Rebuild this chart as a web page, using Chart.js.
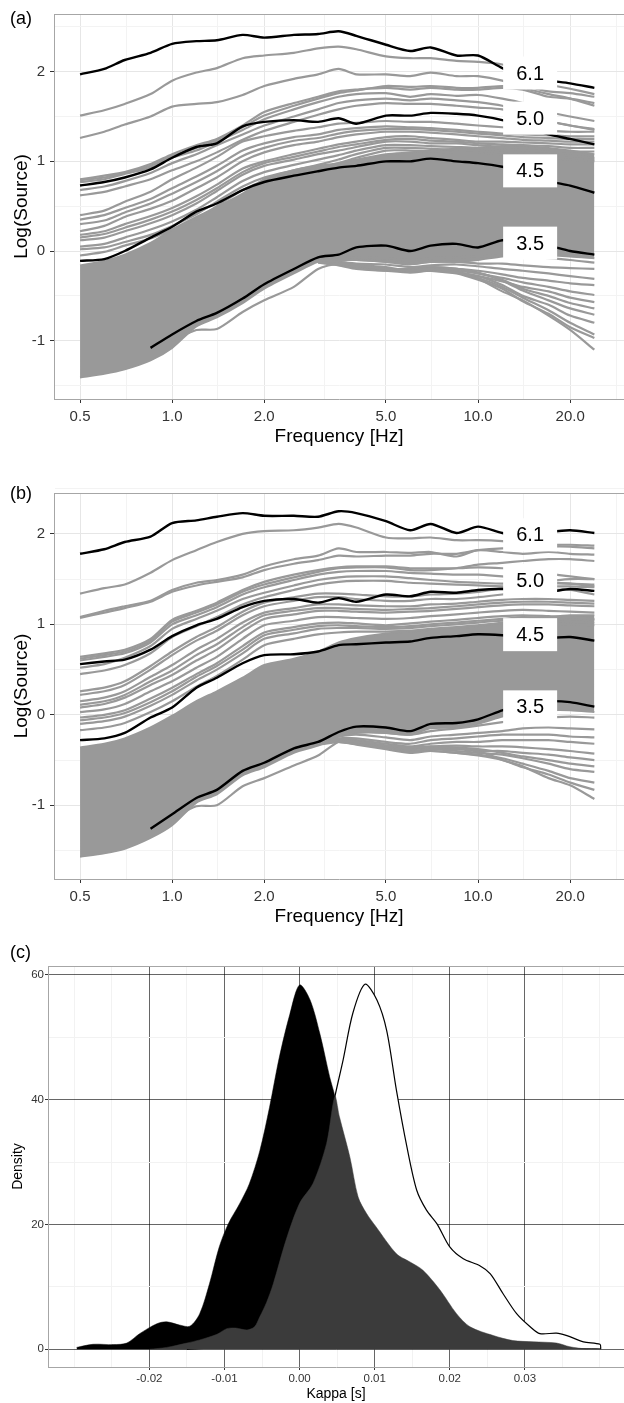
<!DOCTYPE html>
<html>
<head>
<meta charset="utf-8">
<script src="https://cdn.jsdelivr.net/npm/chart.js@4.4.1/dist/chart.umd.min.js"></script>
<style>
  body { margin: 0; background: #fff; width: 624px; height: 1403px; position: relative; overflow: hidden; }
  canvas { position: absolute; left: 0; }
</style>
</head>
<body>
<canvas id="chartA" width="624" height="460" style="top:0px"></canvas>
<canvas id="chartB" width="624" height="461" style="top:479px"></canvas>
<canvas id="chartC" width="624" height="463" style="top:940px"></canvas>
<script>
// ---------- shared axis data (panels a, b) ----------
const freqs = [0.5, 0.6, 0.7, 0.85, 1.0, 1.2, 1.4, 1.7, 2.0, 2.5, 3.0, 3.5, 4.0, 5.0, 6.0, 7.0, 8.5, 10, 12, 14, 17, 20, 24];
const freqMajor = [0.5, 1, 2, 5, 10, 20];
const freqTickLabels = ['0.5', '1.0', '2.0', '5.0', '10.0', '20.0'];
const freqMinor = [0.71, 1.41, 3.16, 7.07, 14.1, 28.3];
const sourceMajor = [-1, 0, 1, 2];
const sourceMinor = [-1.5, -0.5, 0.5, 1.5, 2.5];
const magLabels = ['6.1', '5.0', '4.5', '3.5'];
const magLabelFreq = 14.8;

// ---------- panel (a) ----------
const aMagLabelValues = [1.985, 1.482, 0.894, 0.088];
const aBlack61 = [1.97, 2.03, 2.13, 2.21, 2.31, 2.34, 2.35, 2.41, 2.38, 2.41, 2.42, 2.45, 2.40, 2.30, 2.23, 2.27, 2.18, 2.18, 2.04, 1.95, 1.90, 1.87, 1.82];
const aBlack50 = [0.73, 0.77, 0.82, 0.91, 1.04, 1.16, 1.20, 1.39, 1.44, 1.46, 1.44, 1.48, 1.42, 1.51, 1.51, 1.54, 1.53, 1.51, 1.46, 1.39, 1.30, 1.25, 1.19];
const aBlack45 = [-0.11, -0.09, 0.0, 0.15, 0.27, 0.44, 0.53, 0.68, 0.77, 0.84, 0.89, 0.93, 0.95, 1.00, 1.00, 1.03, 1.00, 0.98, 0.94, 0.88, 0.78, 0.73, 0.65];
const aBlack35 = [null, null, null, -1.08, -0.93, -0.78, -0.69, -0.53, -0.37, -0.20, -0.07, -0.04, 0.04, 0.06, 0.0, 0.06, 0.08, 0.04, 0.12, 0.11, 0.06, 0.0, -0.04];
// envelope of the dense grey mass
const aBandUpper = [-0.16, -0.11, -0.04, 0.09, 0.24, 0.38, 0.49, 0.64, 0.80, 0.90, 0.95, 0.98, 1.02, 1.08, 1.10, 1.12, 1.14, 1.15, 1.17, 1.17, 1.15, 1.12, 1.08];
const aBandLower = [-1.41, -1.37, -1.32, -1.22, -1.08, -0.84, -0.74, -0.58, -0.42, -0.25, -0.12, -0.10, -0.10, -0.12, -0.15, -0.12, -0.12, -0.10, -0.06, -0.05, -0.05, -0.06, -0.08];
// separate grey curves
const aGrey = [
  [1.51, 1.57, 1.64, 1.75, 1.90, 1.99, 2.04, 2.15, 2.18, 2.21, 2.26, 2.28, 2.25, 2.17, 2.15, 2.15, 2.12, 2.11, 2.08, 2.00, 1.86, 1.81, 1.75],
  [1.26, 1.33, 1.41, 1.50, 1.61, 1.64, 1.66, 1.74, 1.84, 1.92, 1.97, 2.03, 1.97, 1.97, 1.95, 1.99, 1.95, 1.95, 1.90, 1.82, 1.75, 1.70, 1.62],
  [0.80, 0.84, 0.88, 0.97, 1.08, 1.18, 1.25, 1.40, 1.55, 1.65, 1.72, 1.78, 1.80, 1.82, 1.80, 1.82, 1.80, 1.80, 1.82, 1.80, 1.72, 1.70, 1.65],
  [0.79, 0.82, 0.87, 0.95, 1.06, 1.15, 1.24, 1.38, 1.51, 1.62, 1.70, 1.76, 1.79, 1.84, 1.83, 1.84, 1.82, 1.82, 1.84, 1.84, 1.78, 1.76, 1.72],
  [0.77, 0.80, 0.86, 0.93, 1.04, 1.12, 1.22, 1.35, 1.47, 1.58, 1.66, 1.72, 1.75, 1.76, 1.72, 1.75, 1.73, 1.74, 1.70, 1.65, 1.55, 1.50, 1.45],
  [0.68, 0.72, 0.78, 0.87, 0.98, 1.08, 1.18, 1.30, 1.40, 1.50, 1.58, 1.65, 1.68, 1.70, 1.68, 1.70, 1.68, 1.66, 1.62, 1.55, 1.45, 1.40, 1.35],
  [0.62, 0.66, 0.72, 0.80, 0.90, 1.00, 1.10, 1.24, 1.34, 1.44, 1.52, 1.58, 1.62, 1.65, 1.64, 1.64, 1.62, 1.60, 1.58, 1.52, 1.45, 1.40, 1.36],
  [0.40, 0.45, 0.55, 0.66, 0.80, 0.93, 1.05, 1.22, 1.28, 1.34, 1.38, 1.42, 1.43, 1.45, 1.44, 1.44, 1.42, 1.40, 1.38, 1.36, 1.34, 1.33, 1.33],
  [0.35, 0.40, 0.48, 0.58, 0.70, 0.83, 0.95, 1.12, 1.20, 1.27, 1.30, 1.35, 1.37, 1.39, 1.38, 1.37, 1.35, 1.33, 1.31, 1.30, 1.29, 1.28, 1.28],
  [0.30, 0.34, 0.43, 0.53, 0.64, 0.77, 0.89, 1.06, 1.15, 1.23, 1.26, 1.31, 1.34, 1.36, 1.36, 1.35, 1.33, 1.31, 1.29, 1.27, 1.26, 1.25, 1.25],
  [0.22, 0.28, 0.38, 0.47, 0.56, 0.70, 0.82, 1.00, 1.10, 1.18, 1.22, 1.27, 1.30, 1.33, 1.33, 1.32, 1.30, 1.28, 1.26, 1.24, 1.23, 1.22, 1.22],
  [0.18, 0.22, 0.30, 0.39, 0.48, 0.61, 0.74, 0.92, 1.00, 1.08, 1.14, 1.19, 1.22, 1.27, 1.28, 1.26, 1.24, 1.22, 1.22, 1.21, 1.20, 1.19, 1.19],
  [0.15, 0.19, 0.26, 0.35, 0.44, 0.57, 0.70, 0.88, 0.98, 1.05, 1.11, 1.16, 1.19, 1.24, 1.25, 1.23, 1.22, 1.20, 1.19, 1.18, 1.17, 1.15, 1.15],
  [0.12, 0.15, 0.22, 0.31, 0.40, 0.53, 0.67, 0.85, 0.95, 1.02, 1.08, 1.12, 1.16, 1.22, 1.22, 1.20, 1.20, 1.18, 1.16, 1.15, 1.13, 1.11, 1.11],
  [0.05, 0.08, 0.15, 0.24, 0.33, 0.46, 0.60, 0.78, 0.88, 0.96, 1.02, 1.07, 1.12, 1.18, 1.18, 1.17, 1.16, 1.15, 1.12, 1.10, 1.08, 1.06, 1.04],
  [0.02, 0.04, 0.10, 0.18, 0.28, 0.41, 0.55, 0.72, 0.82, 0.90, 0.96, 1.02, 1.08, 1.15, 1.15, 1.14, 1.13, 1.12, 1.10, 1.08, 1.06, 1.04, 1.02],
  [-0.05, -0.01, 0.06, 0.14, 0.24, 0.36, 0.50, 0.68, 0.78, 0.86, 0.92, 0.98, 1.04, 1.12, 1.12, 1.11, 1.10, 1.10, 1.08, 1.06, 1.04, 1.02, 1.00],
  [null, null, null, null, -1.0, -0.88, -0.87, -0.68, -0.55, -0.40, -0.20, -0.14, -0.16, -0.2, -0.22, -0.2, -0.24, -0.31, -0.45, -0.55, -0.72, -0.88, -1.1]
];
// lower fan of curves, from 3 Hz on
const aFan = [
  [-0.05, -0.06, -0.07, -0.08, -0.10, -0.08, -0.07, -0.06, -0.05, -0.06, -0.08, -0.10, -0.13],
  [-0.08, -0.10, -0.10, -0.12, -0.14, -0.12, -0.12, -0.14, -0.14, -0.16, -0.18, -0.19, -0.20],
  [-0.10, -0.12, -0.14, -0.15, -0.18, -0.16, -0.15, -0.17, -0.20, -0.22, -0.25, -0.28, -0.31],
  [-0.12, -0.14, -0.17, -0.20, -0.20, -0.20, -0.20, -0.22, -0.26, -0.30, -0.33, -0.36, -0.38],
  [-0.10, -0.12, -0.15, -0.18, -0.22, -0.18, -0.20, -0.25, -0.30, -0.35, -0.40, -0.45, -0.49],
  [-0.12, -0.15, -0.18, -0.20, -0.23, -0.22, -0.24, -0.28, -0.34, -0.40, -0.45, -0.52, -0.57],
  [-0.13, -0.16, -0.20, -0.22, -0.22, -0.20, -0.22, -0.25, -0.32, -0.42, -0.50, -0.58, -0.64],
  [-0.10, -0.13, -0.16, -0.20, -0.20, -0.18, -0.20, -0.24, -0.33, -0.44, -0.55, -0.64, -0.71],
  [-0.12, -0.15, -0.19, -0.22, -0.24, -0.22, -0.24, -0.28, -0.38, -0.50, -0.60, -0.72, -0.80],
  [-0.11, -0.14, -0.18, -0.21, -0.22, -0.20, -0.23, -0.30, -0.40, -0.52, -0.66, -0.80, -0.93],
  [-0.10, -0.13, -0.17, -0.20, -0.21, -0.22, -0.25, -0.32, -0.42, -0.56, -0.70, -0.85, -0.97]
];

// ---------- panel (b) ----------
const bMagLabelValues = [1.99, 1.484, 0.886, 0.088];
const bBlack61 = [1.78, 1.83, 1.91, 1.97, 2.12, 2.15, 2.19, 2.23, 2.20, 2.20, 2.19, 2.25, 2.23, 2.14, 2.04, 2.11, 2.01, 2.08, 2.01, 1.98, 2.02, 2.04, 2.01];
const bBlack50 = [0.56, 0.59, 0.61, 0.72, 0.87, 0.99, 1.06, 1.19, 1.26, 1.28, 1.24, 1.29, 1.25, 1.33, 1.31, 1.36, 1.35, 1.38, 1.39, 1.37, 1.36, 1.39, 1.37];
const bBlack45 = [-0.28, -0.26, -0.20, -0.03, 0.08, 0.30, 0.41, 0.57, 0.66, 0.67, 0.70, 0.77, 0.78, 0.80, 0.81, 0.85, 0.87, 0.89, 0.88, 0.86, 0.85, 0.86, 0.82];
const bBlack35 = [null, null, null, -1.26, -1.10, -0.92, -0.83, -0.62, -0.53, -0.37, -0.30, -0.19, -0.13, -0.14, -0.18, -0.10, -0.09, -0.05, 0.05, 0.11, 0.15, 0.14, 0.09];
const bBandUpper = [-0.36, -0.32, -0.26, -0.14, -0.01, 0.15, 0.26, 0.41, 0.55, 0.62, 0.70, 0.80, 0.85, 0.90, 0.92, 0.94, 0.96, 0.98, 1.02, 1.05, 1.08, 1.10, 1.10];
const bBandLower = [-1.57, -1.53, -1.48, -1.36, -1.22, -0.97, -0.88, -0.67, -0.58, -0.42, -0.34, -0.24, -0.20, -0.20, -0.22, -0.15, -0.14, -0.10, -0.02, 0.03, 0.05, 0.05, 0.03];
const bGrey = [
  [1.34, 1.40, 1.44, 1.57, 1.71, 1.82, 1.91, 2.00, 2.03, 2.04, 2.07, 2.11, 2.07, 1.96, 1.95, 1.96, 1.93, 1.93, 1.92, 1.90, 1.88, 1.88, 1.87],
  [1.08, 1.15, 1.20, 1.26, 1.38, 1.46, 1.49, 1.55, 1.64, 1.72, 1.76, 1.84, 1.80, 1.80, 1.79, 1.80, 1.75, 1.82, 1.80, 1.78, 1.80, 1.78, 1.77],
  [1.07, 1.13, 1.18, 1.25, 1.36, 1.43, 1.47, 1.52, 1.60, 1.67, 1.71, 1.76, 1.75, 1.76, 1.76, 1.78, 1.78, 1.82, 1.84, 1.84, 1.86, 1.86, 1.84],
  [0.64, 0.68, 0.72, 0.84, 1.05, 1.15, 1.24, 1.38, 1.47, 1.55, 1.60, 1.63, 1.64, 1.64, 1.62, 1.62, 1.62, 1.63, 1.62, 1.60, 1.56, 1.53, 1.50],
  [0.62, 0.66, 0.70, 0.82, 1.03, 1.13, 1.22, 1.36, 1.44, 1.52, 1.58, 1.62, 1.63, 1.63, 1.60, 1.60, 1.62, 1.66, 1.68, 1.70, 1.72, 1.72, 1.70],
  [0.60, 0.64, 0.68, 0.80, 1.00, 1.10, 1.19, 1.33, 1.41, 1.49, 1.55, 1.58, 1.59, 1.59, 1.57, 1.56, 1.55, 1.55, 1.53, 1.50, 1.47, 1.45, 1.44],
  [0.52, 0.56, 0.63, 0.76, 0.95, 1.06, 1.15, 1.28, 1.35, 1.43, 1.49, 1.52, 1.53, 1.53, 1.51, 1.49, 1.47, 1.46, 1.45, 1.46, 1.48, 1.50, 1.50],
  [0.45, 0.49, 0.55, 0.68, 0.86, 0.98, 1.08, 1.22, 1.30, 1.38, 1.44, 1.47, 1.48, 1.48, 1.46, 1.45, 1.44, 1.43, 1.42, 1.42, 1.42, 1.42, 1.41],
  [0.26, 0.30, 0.37, 0.54, 0.70, 0.86, 0.97, 1.14, 1.24, 1.30, 1.34, 1.34, 1.33, 1.31, 1.31, 1.33, 1.34, 1.36, 1.40, 1.43, 1.45, 1.45, 1.42],
  [0.22, 0.26, 0.33, 0.50, 0.66, 0.82, 0.93, 1.10, 1.20, 1.26, 1.30, 1.30, 1.28, 1.26, 1.26, 1.28, 1.28, 1.30, 1.33, 1.36, 1.38, 1.38, 1.33],
  [0.15, 0.19, 0.26, 0.42, 0.55, 0.72, 0.84, 1.02, 1.13, 1.18, 1.22, 1.22, 1.21, 1.20, 1.20, 1.22, 1.23, 1.25, 1.27, 1.28, 1.28, 1.27, 1.26],
  [0.11, 0.15, 0.22, 0.37, 0.49, 0.66, 0.78, 0.97, 1.10, 1.15, 1.18, 1.18, 1.17, 1.16, 1.17, 1.18, 1.20, 1.22, 1.24, 1.25, 1.25, 1.24, 1.23],
  [0.08, 0.12, 0.19, 0.33, 0.44, 0.60, 0.72, 0.92, 1.06, 1.11, 1.15, 1.15, 1.14, 1.13, 1.14, 1.15, 1.17, 1.19, 1.21, 1.22, 1.22, 1.21, 1.20],
  [0.03, 0.06, 0.12, 0.26, 0.37, 0.52, 0.64, 0.84, 0.99, 1.04, 1.08, 1.08, 1.07, 1.06, 1.07, 1.09, 1.11, 1.13, 1.15, 1.16, 1.15, 1.14, 1.13],
  [-0.03, 0.0, 0.05, 0.18, 0.30, 0.45, 0.57, 0.76, 0.91, 0.97, 1.01, 1.02, 1.01, 0.99, 1.01, 1.03, 1.05, 1.07, 1.09, 1.10, 1.09, 1.08, 1.06],
  [-0.06, -0.03, 0.02, 0.14, 0.26, 0.42, 0.54, 0.72, 0.88, 0.94, 0.98, 0.99, 0.98, 0.97, 0.98, 1.00, 1.02, 1.04, 1.06, 1.08, 1.07, 1.06, 1.05],
  [-0.10, -0.07, -0.02, 0.10, 0.22, 0.38, 0.50, 0.68, 0.84, 0.90, 0.95, 0.96, 0.96, 0.95, 0.96, 0.98, 1.00, 1.02, 1.04, 1.05, 1.04, 1.03, 1.02],
  [-0.17, -0.14, -0.09, 0.03, 0.15, 0.31, 0.43, 0.61, 0.77, 0.84, 0.89, 0.91, 0.92, 0.92, 0.93, 0.95, 0.97, 0.99, 1.01, 1.02, 1.01, 1.00, 0.99],
  [null, null, null, null, -1.15, -1.01, -1.0, -0.79, -0.70, -0.56, -0.45, -0.30, -0.30, -0.34, -0.36, -0.35, -0.37, -0.40, -0.50, -0.57, -0.70, -0.78, -0.93]
];
const bFan = [
  [-0.28, -0.20, -0.18, -0.20, -0.22, -0.18, -0.15, -0.12, -0.08, -0.05, -0.03, -0.02, -0.03],
  [-0.30, -0.24, -0.22, -0.25, -0.28, -0.24, -0.22, -0.20, -0.18, -0.15, -0.14, -0.15, -0.16],
  [-0.30, -0.26, -0.26, -0.30, -0.32, -0.28, -0.26, -0.24, -0.22, -0.22, -0.22, -0.24, -0.25],
  [-0.32, -0.28, -0.28, -0.32, -0.35, -0.32, -0.30, -0.30, -0.28, -0.28, -0.28, -0.30, -0.32],
  [-0.33, -0.30, -0.30, -0.34, -0.38, -0.35, -0.34, -0.35, -0.35, -0.36, -0.38, -0.40, -0.43],
  [-0.32, -0.30, -0.32, -0.36, -0.40, -0.38, -0.38, -0.40, -0.40, -0.42, -0.44, -0.47, -0.50],
  [-0.30, -0.28, -0.30, -0.35, -0.38, -0.36, -0.36, -0.38, -0.42, -0.46, -0.50, -0.54, -0.57],
  [-0.30, -0.30, -0.32, -0.36, -0.40, -0.38, -0.40, -0.42, -0.44, -0.48, -0.54, -0.60, -0.63],
  [-0.32, -0.30, -0.33, -0.38, -0.42, -0.40, -0.42, -0.44, -0.48, -0.54, -0.62, -0.70, -0.75],
  [-0.30, -0.28, -0.30, -0.36, -0.40, -0.40, -0.42, -0.45, -0.50, -0.58, -0.66, -0.75, -0.83]
];
const fanStartIndex = 10; // fan curves begin at 3 Hz

// ---------- panel (c) ----------
const kappaBlack = [-0.0297, -0.0275, -0.0248, -0.0230, -0.0213, -0.0190, -0.0177, -0.0160, -0.0146, -0.0133, -0.0120, -0.0107, -0.0095, -0.0080, -0.0067, -0.0053, -0.0040, -0.0027, -0.0013, 0, 0.0014, 0.0027, 0.0040, 0.0047, 0.0060, 0.0080, 0.0100, 0.0130, 0.0160, 0.0200, 0.0250, 0.0300, 0.0350, 0.0401];
const densBlack = [0.3, 0.8, 0.75, 1.0, 2.5, 4.1, 4.4, 3.9, 3.7, 5.7, 10.5, 16.4, 20.1, 23.3, 26.5, 31.8, 38.8, 46.8, 53.7, 58.4, 56.0, 50.6, 43.7, 40.5, 31.0, 19.0, 11.0, 5.0, 2.5, 1.2, 0.6, 0.3, 0.15, 0.1];
const kappaDark = [-0.0200, -0.0177, -0.0150, -0.0133, -0.0110, -0.0097, -0.0085, -0.0070, -0.0060, -0.0053, -0.0044, -0.0035, -0.0018, 0, 0.0018, 0.0036, 0.0047, 0.0053, 0.0067, 0.0078, 0.0089, 0.0102, 0.0129, 0.0147, 0.0164, 0.0187, 0.0209, 0.0227, 0.0258, 0.0284, 0.0311, 0.0342, 0.0360, 0.0382, 0.0401];
const densDark = [0, 0.3, 1.0, 1.5, 2.4, 3.3, 3.4, 3.1, 3.6, 5.2, 7.5, 10.5, 17.5, 23.4, 26.6, 33.0, 40.5, 37.3, 30.8, 24.4, 21.8, 19.6, 15.3, 14.0, 12.7, 9.5, 5.7, 3.6, 2.2, 1.4, 1.2, 1.0, 0.4, 0.05, 0];
const kappaWhite = [-0.0150, -0.0100, -0.0050, 0, 0.0020, 0.0040, 0.0047, 0.0058, 0.0071, 0.0087, 0.0103, 0.0116, 0.0129, 0.0143, 0.0156, 0.0169, 0.0183, 0.0200, 0.0218, 0.0240, 0.0254, 0.0271, 0.0289, 0.0307, 0.0320, 0.0342, 0.0356, 0.0378, 0.0400, 0.0401];
const densWhite = [0, 0.5, 2.5, 10, 22, 36, 40.5, 46.4, 53.9, 58.5, 56.0, 51.1, 41.5, 32.4, 25.5, 22.3, 20.1, 16.4, 14.5, 13.4, 12.1, 8.9, 5.7, 3.6, 2.5, 2.6, 2.2, 1.2, 0.8, 0];
const kappaMajor = [-0.02, -0.01, 0, 0.01, 0.02, 0.03];
const kappaTickLabels = ['-0.02', '-0.01', '0.00', '0.01', '0.02', '0.03'];
const kappaMinor = [-0.03, -0.025, -0.015, -0.005, 0.005, 0.015, 0.025, 0.035, 0.04];
const densMajor = [0, 20, 40, 60];
const densMinor = [10, 30, 50];

// ---------- helpers ----------
Chart.defaults.font.family = '"Liberation Sans", Arial, Helvetica, sans-serif';
Chart.defaults.animation = false;
const GREY = '#999999';
const FRAME = '#a6a6a6';

function curve(values, color, width, order) {
  return {
    data: values, borderColor: color, borderWidth: width, pointRadius: 0,
    fill: false, tension: 0.25, order: order, borderJoinStyle: 'round'
  };
}

function padFan(vals) {
  return new Array(fanStartIndex).fill(null).concat(vals);
}

function sourceDatasets(bandUpper, bandLower, grey, fan, blacks) {
  const ds = [];
  ds.push(Object.assign(curve(bandUpper, GREY, 2, 10), { fill: '+1', backgroundColor: GREY }));
  ds.push(curve(bandLower, GREY, 2, 10));
  grey.forEach(g => ds.push(curve(g, GREY, 2.2, 5)));
  fan.forEach(f => ds.push(curve(padFan(f), GREY, 2.2, 5)));
  blacks.forEach(b => ds.push(curve(b, '#000', 2.4, 1)));
  return ds;
}

function isIn(list, v) {
  return list.some(m => Math.abs(m - v) < 1e-9);
}

function sourceDecor(tag, tagY, labelValues) {
  return {
    id: 'sourceDecor' + tag,
    afterDatasetsDraw(chart) {
      const { ctx, chartArea, scales: { x, y } } = chart;
      ctx.save();
      ctx.font = '20px "Liberation Sans", Arial, sans-serif';
      ctx.textAlign = 'center';
      ctx.textBaseline = 'middle';
      labelValues.forEach((v, i) => {
        const px = x.getPixelForValue(magLabelFreq);
        const py = y.getPixelForValue(v);
        ctx.fillStyle = '#fff';
        ctx.fillRect(px - 27, py - 16.5, 54, 33);
        ctx.fillStyle = '#000';
        ctx.fillText(magLabels[i], px, py + 1);
      });
      ctx.strokeStyle = FRAME;
      ctx.lineWidth = 1;
      ctx.beginPath();
      ctx.moveTo(chartArea.left, chartArea.top + 0.5);
      ctx.lineTo(chartArea.right, chartArea.top + 0.5);
      ctx.stroke();
      ctx.font = '18px "Liberation Sans", Arial, sans-serif';
      ctx.textAlign = 'left';
      ctx.fillStyle = '#000';
      ctx.fillText(tag, 10, tagY);
      ctx.restore();
    }
  };
}

function sourceChart(id, topPad, yMin, yMax, datasets, plugin) {
  return new Chart(document.getElementById(id), {
    type: 'line',
    data: { labels: freqs, datasets: datasets },
    options: {
      responsive: false,
      devicePixelRatio: 1,
      layout: { padding: { top: topPad, left: 0, right: 0, bottom: 0 } },
      plugins: { legend: { display: false }, tooltip: { enabled: false } },
      scales: {
        x: {
          type: 'logarithmic', min: 0.411, max: 30,
          afterBuildTicks: s => { s.ticks = freqMajor.concat(freqMinor).sort((p, q) => p - q).map(v => ({ value: v })); },
          afterFit: s => { s.height = 61; },
          ticks: {
            autoSkip: false, maxRotation: 0, padding: 5, color: '#333', font: { size: 15 },
            callback: v => { const i = freqMajor.indexOf(v); return i >= 0 ? freqTickLabels[i] : ''; }
          },
          grid: {
            color: c => (c.tick && isIn(freqMajor, c.tick.value)) ? '#e6e6e6' : '#f3f3f3',
            tickColor: c => (c.tick && isIn(freqMajor, c.tick.value)) ? '#333' : 'rgba(0,0,0,0)',
            tickLength: 4
          },
          border: { color: FRAME, width: 1 },
          title: { display: true, text: 'Frequency [Hz]', color: '#000', font: { size: 19 }, padding: { top: 0, bottom: 12 } }
        },
        y: {
          min: yMin, max: yMax,
          afterBuildTicks: s => { s.ticks = sourceMajor.concat(sourceMinor).sort((p, q) => p - q).map(v => ({ value: v })); },
          afterFit: s => { s.width = 54; },
          ticks: {
            padding: 5, color: '#333', font: { size: 15 },
            callback: v => isIn(sourceMajor, v) ? String(Math.round(v)) : ''
          },
          grid: {
            color: c => (c.tick && isIn(sourceMajor, c.tick.value)) ? '#e6e6e6' : '#f3f3f3',
            tickColor: c => (c.tick && isIn(sourceMajor, c.tick.value)) ? '#333' : 'rgba(0,0,0,0)',
            tickLength: 4
          },
          border: { color: FRAME, width: 1 },
          title: { display: true, text: 'Log(Source)', color: '#000', font: { size: 19 }, padding: { top: 10, bottom: 0 } }
        }
      }
    },
    plugins: [plugin]
  });
}

// ---------- panel (a) ----------
sourceChart('chartA', 7.3, -1.65, 2.643,
  sourceDatasets(aBandUpper, aBandLower, aGrey, aFan, [aBlack61, aBlack50, aBlack45, aBlack35]),
  sourceDecor('(a)', 19, aMagLabelValues));

// ---------- panel (b) ----------
sourceChart('chartB', 7.7, -1.815, 2.452,
  sourceDatasets(bBandUpper, bBandLower, bGrey, bFan, [bBlack61, bBlack50, bBlack45, bBlack35]),
  sourceDecor('(b)', 15, bMagLabelValues));

// ---------- panel (c) ----------
function toPoints(ks, ds) {
  return ks.map((k, i) => ({ x: k, y: ds[i] }));
}

const kappaDecor = {
  id: 'kappaDecor',
  afterDatasetsDraw(chart) {
    const { ctx, chartArea } = chart;
    ctx.save();
    ctx.strokeStyle = FRAME;
    ctx.lineWidth = 1;
    ctx.beginPath();
    ctx.moveTo(chartArea.left, chartArea.top + 0.5);
    ctx.lineTo(chartArea.right, chartArea.top + 0.5);
    ctx.stroke();
    ctx.font = '18px "Liberation Sans", Arial, sans-serif';
    ctx.textAlign = 'left';
    ctx.textBaseline = 'middle';
    ctx.fillStyle = '#000';
    ctx.fillText('(c)', 10, 13);
    ctx.restore();
  }
};

new Chart(document.getElementById('chartC'), {
  type: 'line',
  data: {
    datasets: [
      { data: toPoints(kappaDark, densDark), backgroundColor: '#3b3b3b', borderColor: '#3b3b3b', borderWidth: 0.5,
        fill: 'origin', pointRadius: 0, tension: 0.3, order: 1 },
      { data: toPoints(kappaBlack, densBlack), backgroundColor: '#000', borderColor: '#000', borderWidth: 0.5,
        fill: 'origin', pointRadius: 0, tension: 0.3, order: 2 },
      { data: toPoints(kappaWhite, densWhite), backgroundColor: '#fff', borderColor: '#000', borderWidth: 1.2,
        fill: 'origin', pointRadius: 0, tension: 0.3, order: 3 }
    ]
  },
  options: {
    responsive: false,
    devicePixelRatio: 1,
    layout: { padding: { top: 26, left: 0, right: 0, bottom: 0 } },
    plugins: { legend: { display: false }, tooltip: { enabled: false } },
    scales: {
      x: {
        type: 'linear', min: -0.0335, max: 0.0432,
        afterBuildTicks: s => { s.ticks = kappaMajor.concat(kappaMinor).sort((p, q) => p - q).map(v => ({ value: v })); },
        afterFit: s => { s.height = 36; },
        ticks: {
          autoSkip: false, maxRotation: 0, padding: 2, color: '#333', font: { size: 11.5 },
          callback: v => { const i = kappaMajor.findIndex(m => Math.abs(m - v) < 1e-9); return i >= 0 ? kappaTickLabels[i] : ''; }
        },
        grid: {
          color: c => (c.tick && isIn(kappaMajor, c.tick.value)) ? 'rgba(0,0,0,0.6)' : '#f2f2f2',
          tickColor: c => (c.tick && isIn(kappaMajor, c.tick.value)) ? '#333' : 'rgba(0,0,0,0)',
          tickLength: 3
        },
        border: { color: FRAME, width: 1 },
        title: { display: true, text: 'Kappa [s]', color: '#000', font: { size: 14 }, padding: { top: 0, bottom: 0 } }
      },
      y: {
        min: -2.84, max: 61.44,
        afterBuildTicks: s => { s.ticks = densMajor.concat(densMinor).sort((p, q) => p - q).map(v => ({ value: v })); },
        afterFit: s => { s.width = 48; },
        ticks: {
          padding: 1, color: '#333', font: { size: 11.5 },
          callback: v => isIn(densMajor, v) ? String(v) : ''
        },
        grid: {
          color: c => (c.tick && isIn(densMajor, c.tick.value)) ? 'rgba(0,0,0,0.6)' : '#f2f2f2',
          tickColor: c => (c.tick && isIn(densMajor, c.tick.value)) ? '#333' : 'rgba(0,0,0,0)',
          tickLength: 3
        },
        border: { color: FRAME, width: 1 },
        title: { display: true, text: 'Density', color: '#000', font: { size: 14 }, padding: { top: 10, bottom: 0 } }
      }
    }
  },
  plugins: [kappaDecor]
});
</script>
</body>
</html>
